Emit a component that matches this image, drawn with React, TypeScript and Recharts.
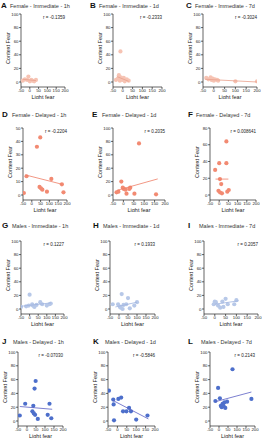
import { ScatterChart, Scatter, XAxis, YAxis, Label } from "recharts";

// light fear (x) / context fear (y)
const lightA = [-40, -28, -15, -8, 0, 8, 15, 25, 35];
const contextA = [2, 4, 3, 8, 1, 3, 2, 1, 3];
const fitA = [[-40, 4], [35, 2]];

const lightB = [-12, -35, -25, -20, -15, -10, -5, 0, 5, 10, 20, 30];
const contextB = [45, 3, 5, 10, 2, 7, 4, 3, 6, 1, 4, 2];
const fitB = [[-30, 8], [30, 1]];

const lightC = [-35, -25, -15, -10, -5, 0, 5, 15, 20, 100, 200];
const contextC = [6, 4, 7, 3, 5, 2, 4, 3, 2, 1, 1];
const fitC = [[-40, 4], [200, 0]];

const lightD = [-45, -30, 29, 48, 44, 52, 60, 86, 111, 171, 180];
const contextD = [1.5, 14, 36, 43, 6, 5, 4, 2.5, 12, 8, 2];
const fitD = [[-37, 15], [172, 8]];

const lightE = [75, -10, -24, -33, -3, 2, 10, 33, 28, 15, 53, 157];
const contextE = [77, 20, 5, 4, 11, 9, 8, 11, 9, 2, 2, 1];
const fitE = [[-30, 7], [165, 24]];

const lightF = [39, 0, 39, -22, 11, 4, -4, 5, 15, 44, 52];
const contextF = [64, 38, 38, 30, 13, 19, 5, 3, 2, 4, 6];
const fitF = [[-20, 19], [50, 19]];

const lightG = [0, -50, -5, 15, 19, 28, 40, 62, 73, 100, 115, 123, -20];
const contextG = [21, 3, 5, 7, 5, 3, 6, 10, 7, 5, 7, 8, 4];
const fitG = [[-50, 4], [125, 9]];

const lightH = [-35, -5, 5, 10, 20, 25, 15, 50, 40, 60, 85, 100];
const contextH = [7, 7, 3, 2, 0, 6, 22, 16, 7, 1, 5, 10];
const fitH = [[-20, 3], [100, 10]];

const lightI = [0, 5, -5, 15, 25, 35, 50, 60, 90, 100, 40];
const contextI = [11, 10, 7, 5, 2, 11, 15, 7, 7, 13, 3];
const fitI = [[0, 7], [110, 12]];

const lightJ = [-40, -10, 35, 30, 38, 45, 42, 48, 60, 115, 125, 135];
const contextJ = [8, 25, 22, 14, 11, 9, 47, 58, 3, 9, 25, 4];
const fitJ = [[-40, 21], [140, 17]];

const lightK = [-45, -22, -20, 5, 20, 30, 48, 62, 72, 100, 160, -18];
const contextK = [44, 31, 24, 32, 34, 14, 14, 19, 14, 2, 8, 1];
const fitK = [[-25, 30], [165, 3]];

const lightL = [75, -5, 5, -20, 10, 20, 15, 30, 25, 45, 35, 180];
const contextL = [75, 48, 33, 29, 22, 25, 20, 27, 22, 28, 19, 32];
const fitL = [[-20, 28], [180, 42]];

const xTicks = [-50, 0, 50, 100, 150, 200];
const ticks100 = [0, 20, 40, 60, 80, 100];
const ticks50 = [0, 10, 20, 30, 40, 50];
const ticks80 = [0, 20, 40, 60, 80];

const letters = ["A", "B", "C", "D", "E", "F", "G", "H", "I", "J", "K", "L"];
const titles = [
  "Female - Immediate - 1h",
  "Female - Immediate - 1d",
  "Female - Immediate - 7d",
  "Female - Delayed - 1h",
  "Female - Delayed - 1d",
  "Female - Delayed - 7d",
  "Males - Immediate - 1h",
  "Males - Immediate - 1d",
  "Males - Immediate - 7d",
  "Males - Delayed - 1h",
  "Males - Delayed - 1d",
  "Males - Delayed - 7d",
];
const rLabels = [
  "r = -0.1359",
  "r = -0.2333",
  "r = -0.3024",
  "r = -0.2204",
  "r = 0.2035",
  "r = 0.008641",
  "r = 0.1227",
  "r = 0.1933",
  "r = 0.2057",
  "r = -0.07030",
  "r = -0.5846",
  "r = 0.2143",
];

const lights = [lightA, lightB, lightC, lightD, lightE, lightF, lightG, lightH, lightI, lightJ, lightK, lightL];
const contexts = [contextA, contextB, contextC, contextD, contextE, contextF, contextG, contextH, contextI, contextJ, contextK, contextL];
const fits = [fitA, fitB, fitC, fitD, fitE, fitF, fitG, fitH, fitI, fitJ, fitK, fitL];
const yTickSets = [ticks100, ticks100, ticks100, ticks50, ticks100, ticks80, ticks100, ticks100, ticks100, ticks100, ticks100, ticks100];

// layout: plot left, plot width, y of top tick, y of zero, title position
const plotLeft = [21, 113, 203, 23, 113, 210, 21, 110, 204, 18, 108, 210];
const plotWidth = [44, 49, 54, 44, 52, 46, 43, 45, 54, 45, 47, 45];
const rowTop = [14, 128, 241, 352];
const rowZero = [82, 195, 309, 421];
const rowTitle = [6, 115, 226, 342];
const letterX = [1, 90, 186, 2, 92, 188, 2, 93, 188, 2, 93, 188];
const titleX = [10, 99, 195, 12, 102, 196, 12, 103, 199, 13, 105, 201];

const colors = ["#f6c3b3", "#f28a72", "#b7c8e8", "#4d6fcb"];
const lineColors = ["#e9a08c", "#ef7d66", "#9fb4e0", "#5a5fc4"];

const ink = "#222";
const font = "'Liberation Sans', Arial, sans-serif";

function Panel({ i }: { i: number }) {
  const row = Math.floor(i / 3);
  const top = rowTop[row];
  const zero = rowZero[row];
  const ticks = yTickSets[i];
  const yMax = ticks[ticks.length - 1];
  const gap = 5;
  const yLo = -(gap / (zero - top)) * yMax;
  const yAxisW = 16;
  const mTop = 3;
  const xAxisH = 12;
  const data = lights[i].map((x, k) => ({ x, y: contexts[i][k] }));
  const fit = fits[i].map(([x, y]) => ({ x, y }));
  const left = plotLeft[i];
  const w = plotWidth[i];
  const color = colors[row];
  return (
    <>
      <div
        style={{
          position: "absolute",
          left: letterX[i],
          top: rowTitle[row] - 5,
          fontSize: 8,
          fontWeight: 700,
          color: "#111",
          lineHeight: "10px",
        }}
      >
        {letters[i]}
      </div>
      <div
        style={{
          position: "absolute",
          left: titleX[i],
          top: rowTitle[row] - 3.5,
          fontSize: 5.5,
          color: "#333",
          lineHeight: "7px",
          whiteSpace: "nowrap",
        }}
      >
        {titles[i]}
      </div>
      <div
        style={{
          position: "absolute",
          left: left - 13,
          top: (top + zero) / 2,
          fontSize: 5.5,
          color: ink,
          whiteSpace: "nowrap",
          transform: "translate(-50%, -50%) rotate(-90deg)",
        }}
      >
        Context Fear
      </div>
      <div
        style={{
          position: "absolute",
          left: left + w - 40,
          width: 40,
          textAlign: "right",
          top: top + 1,
          fontSize: 4.5,
          color: ink,
          whiteSpace: "nowrap",
        }}
      >
        {rLabels[i]}
      </div>
      <div style={{ position: "absolute", left: left - yAxisW, top: top - mTop }}>
        <ScatterChart
          width={yAxisW + w + 4}
          height={mTop + (zero - top) + gap + xAxisH}
          margin={{ top: mTop, right: 4, left: 0, bottom: 0 }}
        >
          <XAxis
            type="number"
            dataKey="x"
            domain={[-50, 200]}
            ticks={xTicks}
            interval={0}
            height={xAxisH}
            tickSize={2}
            tickMargin={0}
            stroke={ink}
            strokeWidth={0.7}
            tick={{ fontSize: 4.3, fill: ink }}
            allowDataOverflow
          >
            <Label value="Light fear" position="insideBottom" offset={0} style={{ fontSize: 5.5, fill: ink }} />
          </XAxis>
          <YAxis
            type="number"
            dataKey="y"
            domain={[yLo, yMax]}
            ticks={ticks}
            interval={0}
            width={yAxisW}
            tickSize={2}
            tickMargin={0.5}
            stroke={ink}
            strokeWidth={0.7}
            tick={{ fontSize: 4.3, fill: ink }}
            allowDataOverflow
          />
          <Scatter
            data={data}
            fill={color}
            isAnimationActive={false}
            shape={(p: any) => <circle cx={p.cx} cy={p.cy} r={2.1} fill={color} />}
          />
          <Scatter
            data={fit}
            line={{ stroke: lineColors[row], strokeWidth: 0.8 }}
            shape={() => <g />}
            isAnimationActive={false}
          />
        </ScatterChart>
      </div>
    </>
  );
}

export default function App() {
  return (
    <div
      style={{
        position: "absolute",
        left: 0,
        top: 0,
        width: 267,
        height: 440,
        background: "#fff",
        fontFamily: font,
        overflow: "hidden",
      }}
    >
      {letters.map((_, i) => (
        <Panel key={i} i={i} />
      ))}
    </div>
  );
}
